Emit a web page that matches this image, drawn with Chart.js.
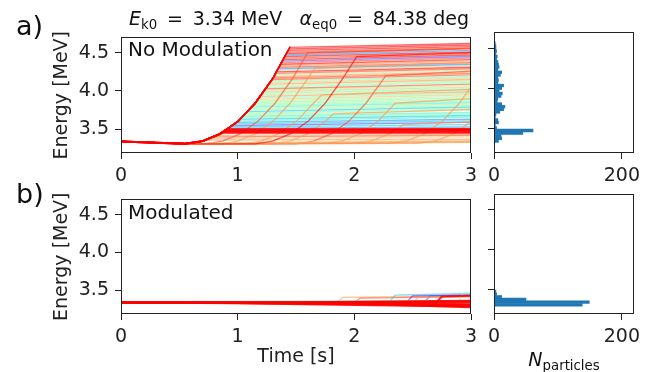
<!DOCTYPE html>
<html>
<head>
<meta charset="utf-8">
<script src="https://cdn.jsdelivr.net/npm/chart.js@4.4.1/dist/chart.umd.min.js"></script>
<style>
  body { margin: 0; background: #fff; width: 656px; height: 372px; position: relative; overflow: hidden;
         font-family: "DejaVu Sans", sans-serif; color: #111; }
  .box { position: absolute; }
  .txt { position: absolute; white-space: nowrap; line-height: 1; font-size: 19px; }
  .txt sub { font-size: 70%; line-height: 0; vertical-align: -0.3em; }
  .big { font-size: 27px; }
  .lab { font-size: 20px; }
</style>
</head>
<body>
<div class="box" style="left:40px;top:20px;width:445px;height:170px"><canvas id="lineA"></canvas></div>
<div class="box" style="left:480px;top:20px;width:171px;height:170px"><canvas id="histA"></canvas></div>
<div class="box" style="left:40px;top:182px;width:445px;height:190px"><canvas id="lineB"></canvas></div>
<div class="box" style="left:480px;top:182px;width:171px;height:190px"><canvas id="histB"></canvas></div>

<div class="txt big" style="left:16px;top:12px">a)</div>
<div class="txt big" style="left:16px;top:180px">b)</div>
<div class="txt" style="left:129px;top:9px"><i>E</i><sub>k0</sub>&nbsp;&thinsp;=&nbsp;&thinsp;3.34 MeV</div>
<div class="txt" style="right:187px;top:9px"><i>α</i><sub>eq0</sub>&nbsp;&thinsp;=&nbsp;&thinsp;84.38 deg</div>
<div class="txt lab" style="left:128px;top:39px">No Modulation</div>
<div class="txt lab" style="left:128px;top:202px">Modulated</div>
<div class="txt" style="left:564px;top:350px;transform:translateX(-50%)"><i>N</i><sub>particles</sub></div>

<script>
// ---- data ----
var timeRange = [0, 3];
var energyRange = [3.19, 4.70];
var energyTicks = [3.5, 4.0, 4.5];
var timeTicks = [0, 1, 2, 3];
var countTicks = [0, 200];
var countMax = 219;

// main accelerating curve of panel a)
var envT = [0, 0.3, 0.55, 0.7, 0.85, 1.0, 1.15, 1.3, 1.45];
var envE = [3.34, 3.325, 3.31, 3.345, 3.44, 3.6, 3.84, 4.16, 4.58];

// particles leaving the main curve: [time left, energy there, energy at t=3]
var branchA = [
  [0.724, 3.36, 3.37], [0.755, 3.38, 3.40], [0.787, 3.40, 3.42], [0.818, 3.42, 3.43],
  [0.916, 3.51, 3.53], [0.934, 3.53, 3.56], [0.953, 3.55, 3.59], [0.972, 3.57, 3.61], [0.991, 3.59, 3.63],
  [1.006, 3.61, 3.66], [1.019, 3.63, 3.68], [1.031, 3.65, 3.70], [1.044, 3.67, 3.72],
  [1.056, 3.69, 3.75], [1.069, 3.71, 3.77], [1.081, 3.73, 3.79], [1.094, 3.75, 3.81],
  [1.106, 3.77, 3.83], [1.119, 3.79, 3.85], [1.131, 3.81, 3.87], [1.144, 3.83, 3.89],
  [1.155, 3.85, 3.91], [1.164, 3.87, 3.93], [1.173, 3.89, 3.95], [1.183, 3.91, 3.97],
  [1.192, 3.93, 3.99], [1.202, 3.95, 4.01], [1.211, 3.97, 4.03], [1.220, 3.99, 4.05],
  [1.230, 4.01, 4.07], [1.239, 4.03, 4.09], [1.248, 4.05, 4.11], [1.258, 4.07, 4.13],
  [1.267, 4.09, 4.15], [1.277, 4.11, 4.17], [1.286, 4.13, 4.19], [1.295, 4.15, 4.21],
  [1.304, 4.17, 4.23], [1.311, 4.19, 4.25], [1.318, 4.21, 4.27], [1.325, 4.23, 4.29],
  [1.332, 4.25, 4.31], [1.339, 4.27, 4.33], [1.346, 4.29, 4.35], [1.354, 4.31, 4.37],
  [1.361, 4.33, 4.39], [1.368, 4.35, 4.41], [1.375, 4.37, 4.43], [1.382, 4.39, 4.45],
  [1.389, 4.41, 4.47], [1.396, 4.43, 4.49], [1.404, 4.45, 4.51], [1.411, 4.47, 4.53],
  [1.418, 4.49, 4.55], [1.425, 4.51, 4.56], [1.432, 4.53, 4.58], [1.439, 4.55, 4.60],
  [1.446, 4.57, 4.62]
];
var branchColA = [8, 7, 9, 8,
  2, 3, 1, 3, 2,
  4, 3, 5, 4, 6, 5, 3, 5, 6, 4, 5, 6,
  5, 6, 7, 5, 8, 6, 5, 7, 6, 9, 5, 6, 8, 7, 5, 9,
  9, 8, 6, 9, 10, 7, 2, 9, 8, 10, 9, 1, 10, 9, 10, 2, 10, 9, 10, 10, 10];

// dense red band around 3.47 MeV
var bandA = [[0.868, 3.455, 3.455], [0.878, 3.47, 3.475], [0.89, 3.485, 3.49], [0.906, 3.50, 3.505]];

// particles accelerated later
var lateA = [
  [[0, 3.34], [0.3, 3.325], [0.55, 3.31], [0.72, 3.31], [0.87, 3.345], [1.02, 3.44], [1.17, 3.6], [1.32, 3.84], [1.47, 4.16], [1.6, 4.5], [3, 4.56]],
  [[0, 3.34], [0.3, 3.325], [0.55, 3.31], [0.85, 3.31], [1.0, 3.345], [1.15, 3.44], [1.3, 3.6], [1.45, 3.84], [1.6, 4.16], [1.66, 4.3], [3, 4.37]],
  [[0, 3.34], [0.3, 3.325], [0.55, 3.31], [1.05, 3.31], [1.2, 3.345], [1.35, 3.44], [1.5, 3.6], [1.65, 3.84], [1.72, 3.95], [3, 4.02]],
  [[0, 3.34], [0.3, 3.325], [0.55, 3.31], [1.3, 3.31], [1.45, 3.345], [1.6, 3.44], [1.75, 3.6], [1.82, 3.7], [3, 3.76]],
  [[0, 3.34], [0.3, 3.325], [0.55, 3.31], [1.5, 3.31], [1.65, 3.345], [1.8, 3.44], [1.95, 3.6], [2.1, 3.84], [2.27, 4.2], [3, 4.26]],
  [[0, 3.34], [0.3, 3.325], [0.55, 3.31], [1.75, 3.315], [1.9, 3.35], [2.05, 3.44], [2.2, 3.6], [2.35, 3.84], [3, 3.9]],
  [[0, 3.34], [0.3, 3.325], [0.55, 3.31], [2.0, 3.315], [2.15, 3.35], [2.3, 3.44], [2.42, 3.56], [3, 3.6]],
  [[0, 3.34], [0.3, 3.325], [0.55, 3.31], [2.3, 3.315], [2.45, 3.35], [2.6, 3.44], [2.75, 3.6], [2.9, 3.84], [3, 4.05]],
  [[0, 3.34], [0.3, 3.325], [0.55, 3.31], [2.55, 3.315], [2.7, 3.35], [2.85, 3.44], [3, 3.6]],
  [[0, 3.34], [0.3, 3.325], [0.55, 3.31], [1.5, 3.315], [3, 3.33]],
  [[0, 3.34], [0.55, 3.31], [1.2, 3.33], [3, 3.35]],
  [[0, 3.34], [0.55, 3.31], [1.0, 3.32], [3, 3.34]],
  [[0, 3.34], [0.3, 3.325], [0.55, 3.31], [1.15, 3.31], [1.3, 3.345], [1.45, 3.44], [1.6, 3.6], [1.75, 3.84], [1.9, 4.16], [2.02, 4.45], [3, 4.5]]
];
var lateColA = [9, 8, 8, 8, 9, 8, 8, 8, 8, 8, 7, 8, 10];

// panel b): modulated run
var linesB = [
  [[0, 3.34], [1.85, 3.335], [1.9, 3.41], [3, 3.43]],
  [[0, 3.34], [2.0, 3.34], [2.05, 3.40], [3, 3.42]],
  [[0.1, 3.35], [1, 3.355], [2, 3.36], [3, 3.365]],
  [[0, 3.345], [2.3, 3.35], [2.35, 3.44], [3, 3.46]],
  [[0, 3.34], [2.45, 3.35], [2.5, 3.43], [3, 3.44]],
  [[0, 3.34], [2.6, 3.345], [2.65, 3.43], [3, 3.44]],
  [[0, 3.345], [2.9, 3.37], [2.93, 3.46], [3, 3.47]],
  [[0, 3.34], [2.5, 3.34], [2.55, 3.41], [3, 3.42]],
  [[0, 3.34], [2.7, 3.34], [2.75, 3.42], [3, 3.43]],
  [[0, 3.34], [1, 3.342], [2, 3.345], [3, 3.355]],
  [[0, 3.34], [1.5, 3.345], [3, 3.365]],
  [[0, 3.34], [1, 3.34], [2, 3.34], [3, 3.34]],
  [[0, 3.34], [1, 3.338], [2, 3.33], [3, 3.32]],
  [[0, 3.34], [1.5, 3.335], [3, 3.31]],
  [[0, 3.34], [1, 3.335], [2, 3.32], [3, 3.30]],
  [[0, 3.34], [1, 3.33], [2, 3.31], [3, 3.29]],
  [[0, 3.34], [2, 3.325], [3, 3.28]]
];
var colB = [8, 9, 4, 3, 0, 1, 5, 8, 10, 10, 10, 10, 10, 10, 10, 10, 10];

// histograms at t = 3 s
var histEnergyA = [3.339, 3.372, 3.405, 3.438, 3.471, 3.504, 3.537, 3.570, 3.603, 3.636, 3.669, 3.702,
  3.735, 3.768, 3.801, 3.834, 3.867, 3.900, 3.933, 3.966, 3.999, 4.032, 4.065, 4.098, 4.131, 4.164,
  4.197, 4.230, 4.263, 4.296, 4.329, 4.362, 4.395, 4.428, 4.461, 4.494, 4.527, 4.560];
var histCountA = [7, 12, 11, 45, 61, 4, 2, 7, 6, 2, 3, 9, 15, 17, 12, 5, 6, 11, 13, 8, 12, 15, 6, 7, 6, 10,
  12, 6, 8, 7, 6, 4, 5, 3, 4, 3, 3, 2];
var histEnergyB = [3.306, 3.339, 3.373, 3.406, 3.440, 3.473];
var histCountB = [138, 149, 50, 12, 4, 3];

// ---- styles ----
var palette = ['128,0,255', '76,80,252', '25,150,243', '28,203,228', '76,242,206', '128,255,180',
  '178,242,150', '230,203,115', '255,150,79', '255,77,39', '255,0,0'];
var ink = '#222';
var tickFont = { family: 'DejaVu Sans', size: 19 };

function rgba(i, a) { return 'rgba(' + palette[i] + ',' + a + ')'; }

function toXY(pts) {
  return pts.map(function (p) { return { x: p[0], y: p[1] }; });
}

function branchPoints(b) {
  var pts = [];
  for (var i = 0; i < envT.length; i++) {
    if (envT[i] < b[0]) pts.push([envT[i], envE[i]]);
  }
  pts.push([b[0], b[1]]);
  pts.push([timeRange[1], b[2]]);
  return pts;
}

function lineSet(pts, color, width) {
  return { data: toXY(pts), borderColor: color, borderWidth: width, pointRadius: 0, tension: 0, fill: false };
}

var framePlugin = {
  id: 'frame',
  afterDraw: function (chart) {
    var a = chart.chartArea, ctx = chart.ctx;
    ctx.save();
    ctx.strokeStyle = ink;
    ctx.lineWidth = 1;
    ctx.strokeRect(Math.round(a.left) + 0.5, Math.round(a.top) + 0.5,
      Math.round(a.right - a.left) - 1, Math.round(a.bottom - a.top) - 1);
    ctx.restore();
  }
};

function fixTicks(values) {
  return function (scale) { scale.ticks = values.map(function (v) { return { value: v }; }); };
}

function makeOptions(o) {
  return {
    responsive: true,
    maintainAspectRatio: false,
    animation: false,
    devicePixelRatio: 1,
    indexAxis: o.indexAxis || 'x',
    layout: { autoPadding: false, padding: { left: 0, top: 12, right: o.right, bottom: 0 } },
    plugins: { legend: { display: false }, tooltip: { enabled: false } },
    scales: {
      x: {
        type: 'linear', min: o.xMin, max: o.xMax, offset: false,
        afterBuildTicks: fixTicks(o.xTicks),
        ticks: { font: tickFont, color: ink, padding: 6, maxRotation: 0,
                 callback: function (v) { return String(v); } },
        grid: { drawOnChartArea: false, offset: false, tickLength: 6, color: ink },
        border: { display: false },
        title: { display: !!o.xTitle, text: o.xTitle || '', font: tickFont, color: ink, padding: { top: 0, bottom: 4 } },
        afterFit: function (s) { s.height = o.xHeight; }
      },
      y: {
        type: 'linear', min: energyRange[0], max: energyRange[1], offset: false,
        afterBuildTicks: fixTicks(energyTicks),
        ticks: { display: o.yLabels, font: tickFont, color: ink, padding: 6,
                 callback: function (v) { return Number(v).toFixed(1); } },
        grid: { drawOnChartArea: false, offset: false, tickLength: 6, color: ink },
        border: { display: false },
        title: { display: o.yLabels, text: 'Energy [MeV]', font: tickFont, color: ink, padding: { top: 11, bottom: 0 } },
        afterFit: function (s) { s.width = o.yWidth; }
      }
    }
  };
}

// ---- panel a) lines (dataset 0 is drawn on top) ----
var setsA = [];
setsA.push(lineSet(envT.map(function (t, i) { return [t, envE[i]]; }), '#ff0000', 1.3));
bandA.forEach(function (b) { setsA.push(lineSet(branchPoints(b), rgba(10, 0.9), 2)); });
for (var i = lateA.length - 1; i >= 0; i--) setsA.push(lineSet(lateA[i], rgba(lateColA[i], 0.65), 1.3));
for (var j = branchA.length - 1; j >= 0; j--) setsA.push(lineSet(branchPoints(branchA[j]), rgba(branchColA[j], 0.6), 1.4));

new Chart(document.getElementById('lineA'), {
  type: 'line',
  data: { datasets: setsA },
  options: makeOptions({ right: 14, xMin: timeRange[0], xMax: timeRange[1], xTicks: timeTicks,
    xHeight: 37, yWidth: 81, yLabels: true }),
  plugins: [framePlugin]
});

// ---- panel b) lines ----
var setsB = [];
for (var k = linesB.length - 1; k >= 0; k--) {
  var red = colB[k] === 10;
  setsB.push(lineSet(linesB[k], rgba(colB[k], red ? 0.85 : 0.6), red ? 2 : 1.3));
}
new Chart(document.getElementById('lineB'), {
  type: 'line',
  data: { datasets: setsB },
  options: makeOptions({ right: 14, xMin: timeRange[0], xMax: timeRange[1], xTicks: timeTicks,
    xHeight: 58, yWidth: 81, yLabels: true, xTitle: 'Time [s]' }),
  plugins: [framePlugin]
});

// ---- histograms ----
function histChart(id, energies, counts, xHeight) {
  var data = energies.map(function (e, i) { return { x: counts[i], y: e }; });
  new Chart(document.getElementById(id), {
    type: 'bar',
    data: { datasets: [{ data: data, backgroundColor: '#1f77b4', borderWidth: 0,
      barPercentage: 1, categoryPercentage: 1 }] },
    options: makeOptions({ indexAxis: 'y', right: 17, xMin: 0, xMax: countMax, xTicks: countTicks,
      xHeight: xHeight, yWidth: 14, yLabels: false }),
    plugins: [framePlugin]
  });
}
histChart('histA', histEnergyA, histCountA, 37);
histChart('histB', histEnergyB, histCountB, 58);
</script>
</body>
</html>
